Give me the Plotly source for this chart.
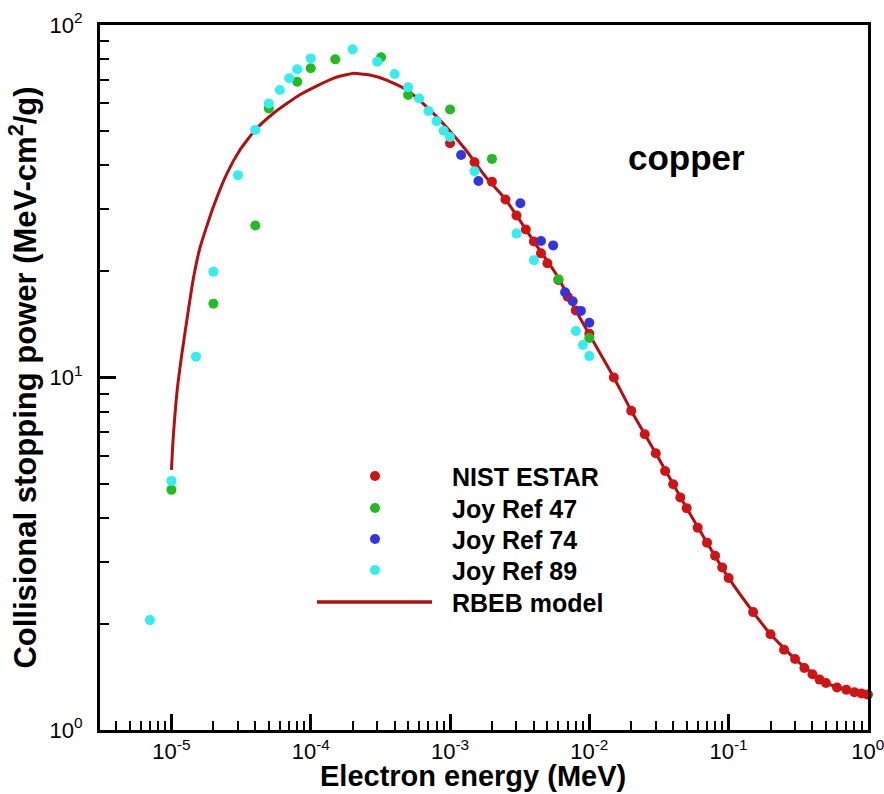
import plotly.graph_objects as go

# ---------------- data ----------------
estar_x = [1e-3, 1.5e-3, 2e-3, 2.5e-3, 3e-3, 3.5e-3, 4e-3, 4.5e-3, 5e-3, 6e-3, 7e-3, 8e-3,
           1e-2, 1.5e-2, 2e-2, 2.5e-2, 3e-2, 3.5e-2, 4e-2, 4.5e-2, 5e-2, 6e-2, 7e-2, 8e-2,
           9e-2, 0.1, 0.15, 0.2, 0.25, 0.3, 0.35, 0.4, 0.45, 0.5, 0.6, 0.7, 0.8, 0.9, 1.0]
estar_y = [46.2, 40.8, 35.9, 32.0, 28.8, 26.3, 24.3, 22.5, 21.1, 18.9, 16.95, 15.5,
           13.3, 10.0, 8.05, 6.9, 6.1, 5.43, 4.98, 4.57, 4.26, 3.75, 3.40, 3.12,
           2.89, 2.70, 2.16, 1.87, 1.69, 1.59, 1.50, 1.44, 1.39, 1.36, 1.32, 1.30, 1.28, 1.27, 1.26]

joy47_x = [1e-5, 2e-5, 4e-5, 5e-5, 8e-5, 1e-4, 1.5e-4, 3.2e-4, 5e-4, 1e-3, 2e-3, 6e-3, 1e-2]
joy47_y = [4.8, 16.2, 27.0, 58.0, 69.0, 75.4, 79.9, 81.0, 63.3, 57.6, 41.7, 19.0, 12.95]

joy74_x = [1.2e-3, 1.6e-3, 3.2e-3, 4.5e-3, 5.5e-3, 6.7e-3, 7.6e-3, 8.7e-3, 1e-2]
joy74_y = [42.8, 36.1, 31.2, 24.4, 23.7, 17.45, 16.45, 15.45, 14.3]

joy89_x = [7e-6, 1e-5, 1.5e-5, 2e-5, 3e-5, 4e-5, 5e-5, 6e-5, 7e-5, 8e-5, 1e-4, 2e-4, 3e-4,
           4e-4, 5e-4, 6e-4, 7e-4, 8e-4, 9e-4, 1e-3, 1.5e-3, 3e-3, 4e-3, 8e-3, 9e-3, 1e-2]
joy89_y = [2.05, 5.09, 11.46, 19.95, 37.5, 50.4, 59.9, 65.4, 70.6, 74.9, 80.4, 85.3, 78.7,
           72.6, 66.6, 61.9, 57.0, 53.3, 50.1, 48.1, 38.5, 25.6, 21.5, 13.55, 12.36, 11.5]

rbeb_x = [1e-5, 1.027e-5, 1.1e-5, 1.18e-5, 1.28e-5, 1.43e-5, 1.6e-5, 2e-5, 2.5e-5, 3.1e-5,
          4e-5, 5.4e-5, 8.3e-5, 1.1e-4, 1.45e-4, 2e-4, 2.65e-4, 3.5e-4, 4.9e-4, 6.8e-4,
          9.4e-4, 1.3e-3, 1.8e-3, 2.5e-3, 4e-3, 5.8e-3, 8e-3, 1.1e-2, 1.5e-2, 2e-2, 3e-2,
          5e-2, 7e-2, 0.1, 0.15, 0.2, 0.3, 0.5, 0.7, 1.0]
rbeb_y = [5.47, 6.65, 9.22, 11.46, 14.25, 18.9, 23.3, 30.5, 37.9, 44.2,
          50.4, 56.2, 63.3, 67.1, 70.6, 72.9, 72.1, 69.8, 65.4, 58.6,
          51.4, 44.2, 37.1, 32.0, 24.3, 19.6, 15.5, 12.4, 10.0, 8.05, 6.1,
          4.26, 3.40, 2.70, 2.16, 1.87, 1.59, 1.36, 1.30, 1.26]

xtick_vals = [1e-5, 1e-4, 1e-3, 1e-2, 1e-1, 1]
xtick_text = ["10<sup>-5</sup>", "10<sup>-4</sup>", "10<sup>-3</sup>", "10<sup>-2</sup>",
              "10<sup>-1</sup>", "10<sup>0</sup>"]
ytick_vals = [1, 10, 100]
ytick_text = ["10<sup>0</sup>", "10<sup>1</sup>", "10<sup>2</sup>"]

series_names = ["NIST ESTAR", "Joy Ref 47", "Joy Ref 74", "Joy Ref 89", "RBEB model"]
series_colors = ["#d01414", "#22bb22", "#3434e0", "#33eeee", "#b01010"]

FONT = "Liberation Sans, Arial, Helvetica, sans-serif"

# ---------------- figure ----------------
fig = go.Figure()

fig.add_trace(go.Scatter(x=rbeb_x, y=rbeb_y, mode="lines", name=series_names[4],
                         line=dict(color=series_colors[4], width=3, shape="spline", smoothing=0.5),
                         showlegend=False, cliponaxis=False))
for xs, ys, nm, col in [(estar_x, estar_y, series_names[0], series_colors[0]),
                        (joy47_x, joy47_y, series_names[1], series_colors[1]),
                        (joy74_x, joy74_y, series_names[2], series_colors[2]),
                        (joy89_x, joy89_y, series_names[3], series_colors[3])]:
    fig.add_trace(go.Scatter(x=xs, y=ys, mode="markers", name=nm,
                             marker=dict(color=col, size=10, line=dict(width=0)),
                             showlegend=False, cliponaxis=False))

axis_common = dict(type="log", showline=True, linewidth=3, linecolor="black", mirror=True,
                   showgrid=False, zeroline=False, ticks="inside", ticklen=16, tickwidth=3,
                   tickcolor="black", tickmode="array", ticklabeloverflow="allow",
                   minor=dict(ticks="inside", ticklen=9, tickwidth=1.5, tickcolor="black",
                              dtick="D1", showgrid=False))

fig.update_xaxes(range=[-5.513, 0.0008], tickvals=xtick_vals, ticktext=xtick_text,
                 **axis_common)
fig.update_yaxes(range=[0, 2], tickvals=ytick_vals, ticktext=ytick_text, ticklabelstandoff=10,
                 title=dict(text="Collisional stopping power (MeV-cm<sup>2</sup>/g)", standoff=4,
                            font=dict(family=FONT, size=31, color="black", weight=700)),
                 **axis_common)
fig.update_xaxes(tickfont=dict(family=FONT, size=22, color="black"))
fig.update_yaxes(tickfont=dict(family=FONT, size=22, color="black"))

# manual legend and labels (paper coordinates)
L, T, W, H = 100, 25, 768, 705
def px(xp):
    return (xp - L) / W
def py(yp):
    return (T + H - yp) / H

rows_y = [476, 508, 539, 570]
for i in range(4):
    fig.add_shape(type="circle", xref="paper", yref="paper", xsizemode="pixel", ysizemode="pixel",
                  xanchor=px(375), yanchor=py(rows_y[i]), x0=-5, x1=5, y0=-5, y1=5,
                  fillcolor=series_colors[i], line=dict(width=0))
fig.add_shape(type="line", xref="paper", yref="paper", x0=px(317), x1=px(432), y0=py(602), y1=py(602),
              line=dict(color=series_colors[4], width=3.5))
for i, yy in enumerate(rows_y + [602]):
    fig.add_annotation(text=series_names[i], xref="paper", yref="paper", x=px(450), y=py(yy + 1),
                       xanchor="left", yanchor="middle", showarrow=False,
                       font=dict(family=FONT, size=25, color="black", weight=700))

fig.add_annotation(text="copper", xref="paper", yref="paper", x=px(686), y=py(157),
                   xanchor="center", yanchor="middle", showarrow=False,
                   font=dict(family=FONT, size=35, color="black", weight=700))

# x-axis title
fig.add_annotation(text="Electron energy (MeV)", xref="paper", yref="paper", x=px(473), y=py(776),
                   xanchor="center", yanchor="middle", showarrow=False,
                   font=dict(family=FONT, size=29, color="black", weight=700))

fig.update_layout(width=884, height=794, margin=dict(l=100, r=16, t=25, b=64, autoexpand=False),
                  paper_bgcolor="white", plot_bgcolor="white", showlegend=False,
                  font=dict(family=FONT, color="black"))

fig.write_html("out.html", config={"displayModeBar": False},
               post_script="document.body.style.margin='0';document.body.style.padding='0';"
                           "document.documentElement.style.overflow='hidden';")
